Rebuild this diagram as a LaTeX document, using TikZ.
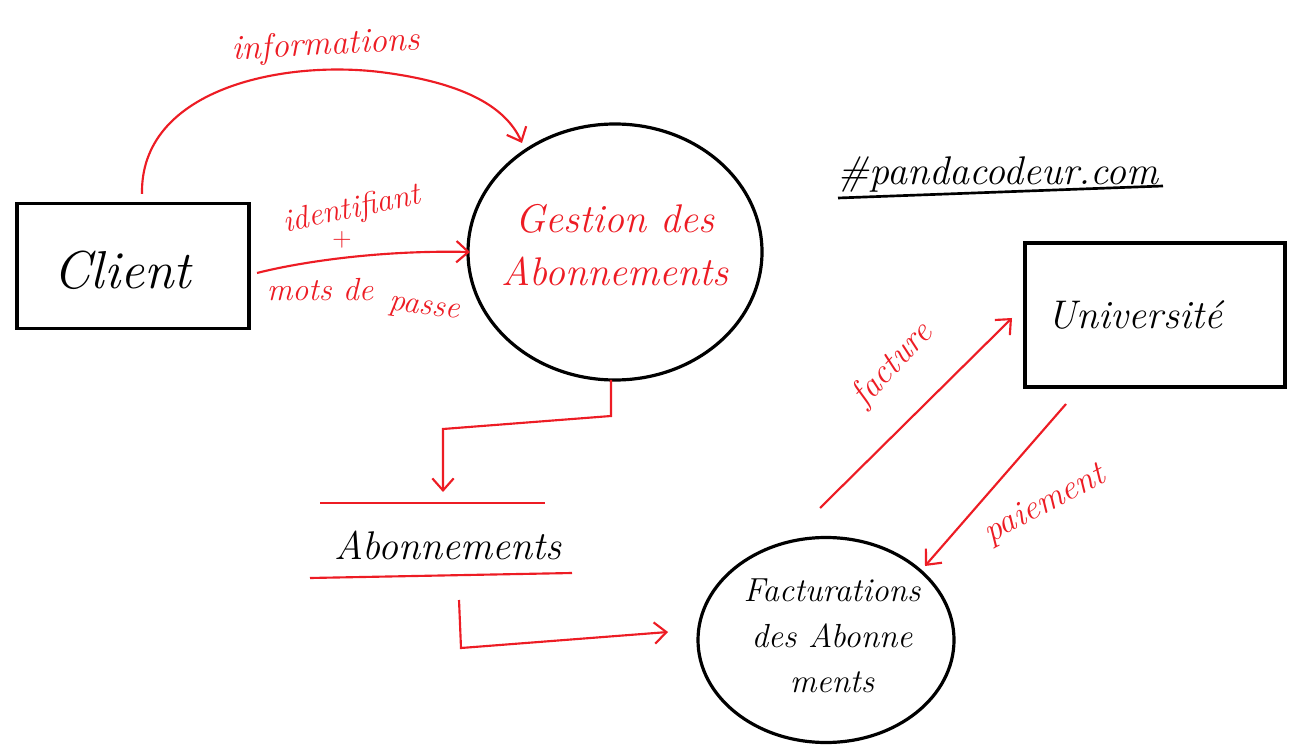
\documentclass[tikz,border=0pt]{standalone}
\usetikzlibrary{arrows.meta,shapes.geometric}
\definecolor{penred}{RGB}{237,28,36}
\begin{document}
\begin{tikzpicture}[x=0.75pt,y=-0.75pt,
  box/.style={draw=black,line width=2.6pt,minimum width=232*0.75pt,minimum height=125*0.75pt,inner sep=0pt},
  proc/.style={draw=black,line width=2.4pt,ellipse,inner sep=0pt},
  redlbl/.style={text=penred,font=\fontsize{26}{30}\selectfont\itshape},
  blklbl/.style={text=black,font=\fontsize{30}{34}\selectfont\itshape},
  flow/.style={draw=penred,line width=1.6pt,-{Straight Barb[length=9pt,width=16pt,line width=1.6pt]}},
  plainred/.style={draw=penred,line width=1.6pt}]
\useasboundingbox (0,0) rectangle (1306,755);
\fill[white] (0,0) rectangle (1306,755);

% nodes
\node[box] (client) at (133,266) {};
\node[blklbl,font=\fontsize{40}{44}\selectfont\itshape] (clientt) at (122,270) {Client};

\node[proc,minimum width=294*0.75pt,minimum height=256*0.75pt] (gestion) at (615,252) {};
\node[redlbl,align=center,font=\fontsize{30}{40}\selectfont\itshape] (gestiont) at (615,245) {Gestion des\\Abonnements};

\node[box,minimum width=260*0.75pt,minimum height=144*0.75pt] (univ) at (1155,315) {};
\node[blklbl] (univt) at (1135,315) {Université};

\node[proc,minimum width=256*0.75pt,minimum height=205*0.75pt] (fact) at (826,640) {};
\node[blklbl,align=center,font=\fontsize{25}{34}\selectfont\itshape] (factt) at (832,636) {Facturations\\des Abonne\\ments};

% data store
\coordinate (ds1a) at (320,503); \coordinate (ds1b) at (545,503);
\coordinate (ds2a) at (310,578); \coordinate (ds2b) at (572,573);
\draw[plainred] (ds1a) -- (ds1b);
\draw[plainred] (ds2a) -- (ds2b);
\node[blklbl] (abot) at (448,545) {Abonnements};

% watermark
\node[text=black,font=\fontsize{30}{34}\selectfont\itshape] (panda) at (998,175) {\#pandacodeur.com};
\coordinate (ula) at (838,198); \coordinate (ulb) at (1163,186);
\draw[black,line width=2pt] (ula) -- (ulb);

% flows
\coordinate (infoS) at (142,194);
\coordinate (infoE) at (522,143);
\draw[flow] (infoS) .. controls (140,90) and (280,60) .. (380,72) .. controls (460,82) and (505,105) .. (infoE);
\node[redlbl,rotate=3] (infot) at (326,46) {informations};

\coordinate (idS) at (257,273);
\coordinate (idE) at (470,252);
\draw[flow] (idS) .. controls (300,262) and (380,250) .. (idE);
\node[redlbl,rotate=12,font=\fontsize{24}{28}\selectfont\itshape] (idt) at (352,210) {identifiant};
\node[redlbl,font=\fontsize{20}{24}\selectfont] (plus) at (342,240) {+};
\node[redlbl,font=\fontsize{24}{28}\selectfont\itshape] (motst) at (320,290) {mots de};
\node[redlbl,rotate=-8,font=\fontsize{24}{28}\selectfont\itshape] (passet) at (424,310) {passe};

\coordinate (gS) at (611,380);
\coordinate (g1) at (611,416);
\coordinate (g2) at (443,429);
\coordinate (abE) at (443,492);
\draw[flow] (gS) -- (g1) -- (g2) -- (abE);

\coordinate (aS) at (459,600);
\coordinate (a1) at (461,648);
\coordinate (aE) at (668,632);
\draw[flow] (aS) -- (a1) -- (aE);

\coordinate (fS) at (820,508);
\coordinate (fE) at (1012,318);
\draw[flow] (fS) -- (fE);
\node[redlbl,rotate=47] (factu) at (893,365) {facture};

\coordinate (pS) at (1066,404);
\coordinate (pE) at (925,566);
\draw[flow] (pS) -- (pE);
\node[redlbl,rotate=28] (paiet) at (1045,505) {paiement};
\end{tikzpicture}
\end{document}
